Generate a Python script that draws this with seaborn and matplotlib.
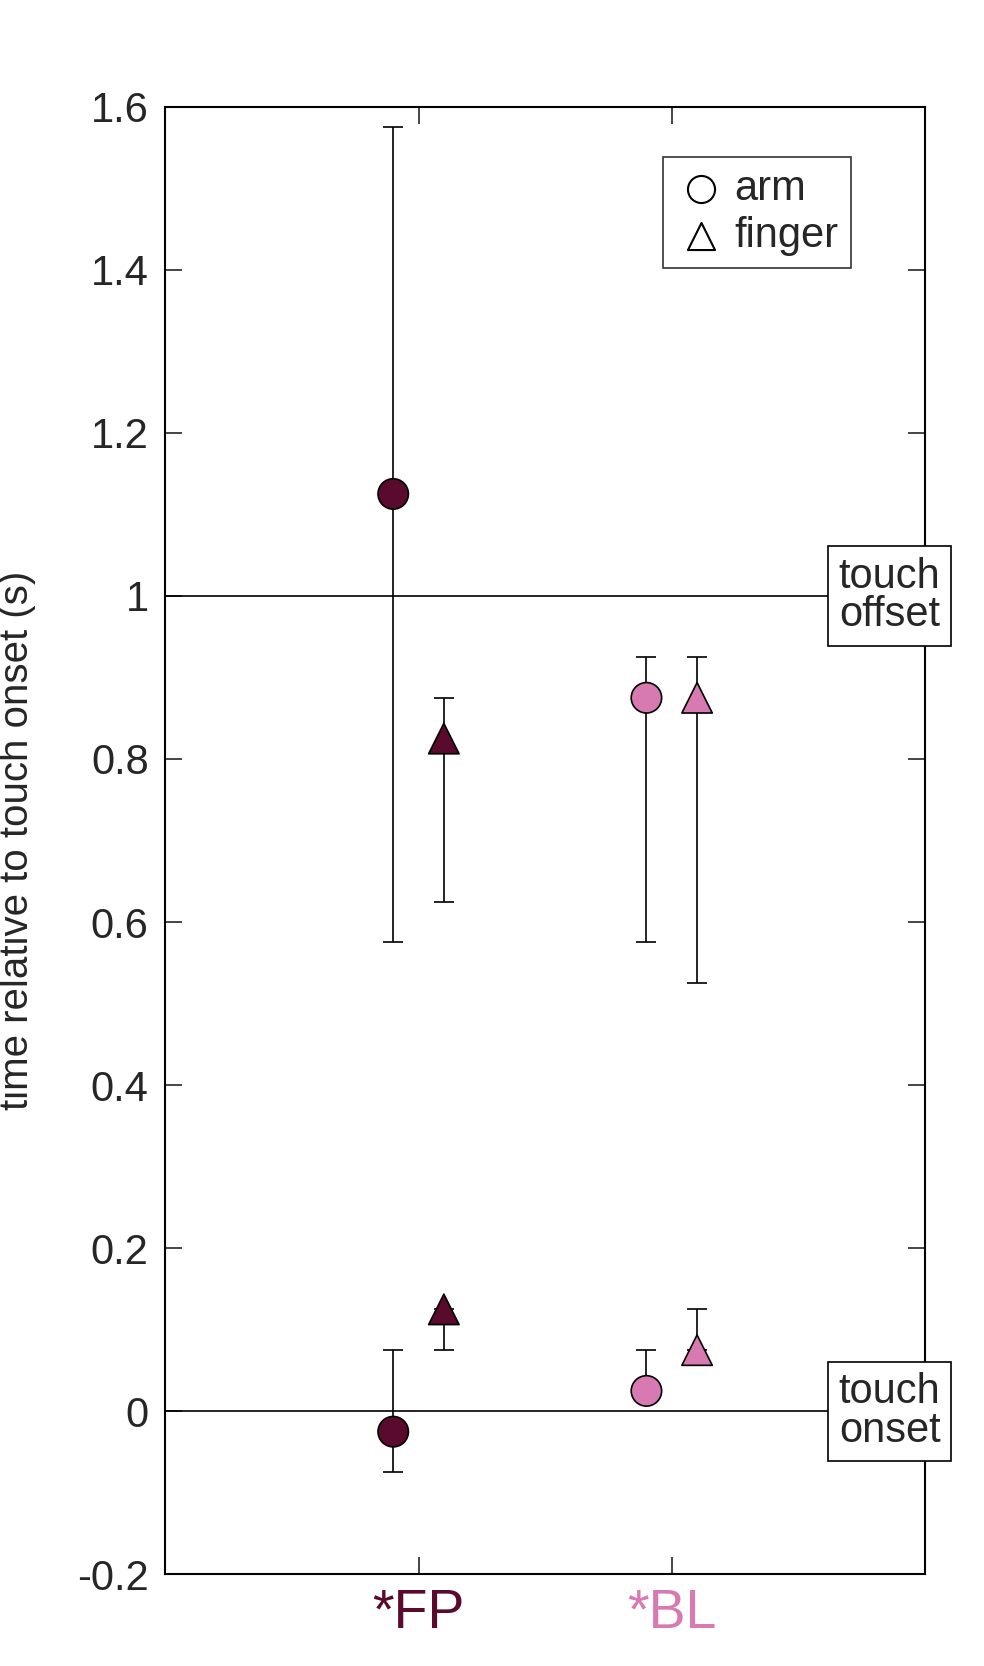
import numpy as np
import pandas as pd
import seaborn as sns
from matplotlib import pyplot as plt

sns.set_theme(style="white")
plt.rcParams["font.family"] = "Liberation Sans"

groups = ["*FP", "*BL"]
group_colors = ["#5a0a2c", "#d77ab2"]
effectors = ["arm", "finger"]

# event time estimates: (group, effector, value, low, high)
grp = ["*FP", "*FP", "*BL", "*BL", "*FP", "*FP", "*BL", "*BL"]
eff = ["arm", "finger", "arm", "finger", "arm", "finger", "arm", "finger"]
value = [1.125, 0.825, 0.875, 0.875, -0.025, 0.125, 0.025, 0.075]
low = [0.575, 0.625, 0.575, 0.525, -0.075, 0.075, 0.025, 0.075]
high = [1.575, 0.875, 0.925, 0.925, 0.075, 0.125, 0.075, 0.125]

df = pd.DataFrame({"group": grp, "effector": eff, "value": value, "low": low, "high": high})
offset = {"arm": -0.1, "finger": 0.1}
df["x"] = df["group"].map({g: i + 1 for i, g in enumerate(groups)}) + df["effector"].map(offset)

fig = plt.figure(figsize=(9.84, 16.66), dpi=100)
ax = fig.add_axes([0.168, 0.055, 0.772, 0.881])

ax.axhline(1, color="black", lw=1.2, zorder=1)
ax.axhline(0, color="black", lw=1.2, zorder=1)

for _, r in df.iterrows():
    ax.errorbar(r["x"], r["value"], yerr=[[r["value"] - r["low"]], [r["high"] - r["value"]]],
                fmt="none", ecolor="black", elinewidth=1.2, capsize=7, capthick=1.2, zorder=2)

sns.scatterplot(data=df, x="x", y="value", hue="group", style="effector",
                palette=dict(zip(groups, group_colors)), markers={"arm": "o", "finger": "^"},
                s=480, edgecolor="black", linewidth=1.2, legend=False, ax=ax, zorder=3)

# legend
for m, lab in zip(["o", "^"], effectors):
    ax.scatter([], [], marker=m, s=380, facecolor="white", edgecolor="black", lw=1.5, label=lab)
leg = ax.legend(loc="upper right", bbox_to_anchor=(0.93, 0.98), fontsize=30, frameon=True,
                fancybox=False, edgecolor="black", handletextpad=0.2, borderpad=0.3,
                labelspacing=0.15, handlelength=1.2)
leg.get_frame().set_linewidth(1.2)

for yv, txt in [(1, "touch\noffset"), (0, "touch\nonset")]:
    ax.text(2.66, yv, txt, fontsize=30, ha="left", va="center", linespacing=0.95,
            bbox=dict(boxstyle="square,pad=0.25", facecolor="white", edgecolor="black", lw=1.2),
            zorder=5, clip_on=False)

ax.set_xlim(0, 3)
ax.set_ylim(-0.2, 1.6)
ax.set_xticks([1, 2])
ax.set_xticklabels(groups, fontsize=40)
for lbl, c in zip(ax.get_xticklabels(), group_colors):
    lbl.set_color(c)
yt = np.arange(-0.2, 1.61, 0.2).round(1)
ax.set_yticks(yt)
ax.set_yticklabels(["-0.2", "0", "0.2", "0.4", "0.6", "0.8", "1", "1.2", "1.4", "1.6"], fontsize=30)
ax.tick_params(direction="in", length=12, width=1.2, top=True, right=True, bottom=True, left=True, pad=12)
ax.tick_params(axis="x", pad=10)
ax.set_xlabel("")
ax.set_ylabel("time relative to touch onset (s)", fontsize=29)
ax.yaxis.set_label_coords(-0.17, 0.5)
for s in ax.spines.values():
    s.set_color("black")
    s.set_linewidth(1.5)

fig.savefig("out.png", dpi=100)
